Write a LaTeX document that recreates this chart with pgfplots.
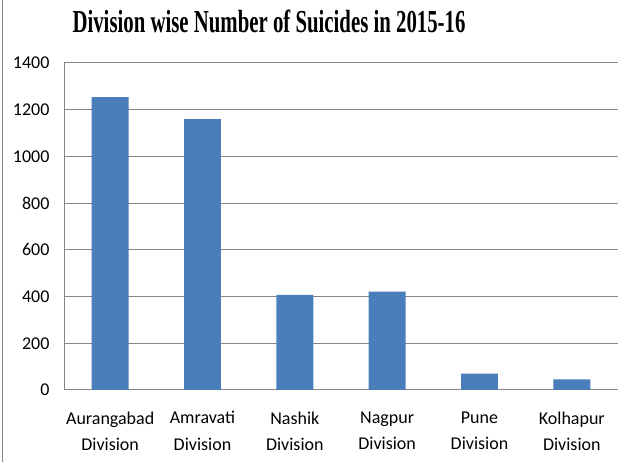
\documentclass[border=0pt]{standalone}
\usepackage{fontspec}
\setmainfont{Carlito}
\newfontfamily\titlefont[FakeStretch=0.65]{Liberation Serif}
\usepackage{pgfplots}
\usepackage{pgfplotstable}
\pgfplotsset{compat=1.18}

\definecolor{barblue}{HTML}{4A7EBB}
\definecolor{gridgray}{HTML}{868686}

\pgfplotstableread{
idx  suicides
1    1254
2    1160
3    407
4    421
5    70
6    46
}\divdata

\begin{document}
\begin{tikzpicture}
\path[use as bounding box] (0,0) rectangle (621pt,462pt);
\draw[gridgray, line width=1.5pt] (2.5pt,0) -- (2.5pt,462pt);
\node[font=\titlefont\bfseries\fontsize{32}{34}\selectfont, anchor=center] at (269pt,441pt) {Division wise Number of Suicides in 2015-16};
\begin{axis}[
    at={(64pt,72pt)}, anchor=south west,
    scale only axis,
    width=554pt, height=327pt,
    xmin=0.5, xmax=6.5,
    ymin=0, ymax=1400,
    xtick={1,...,6},
    xticklabels={{Aurangabad\\Division},{Amravati\\Division},{Nashik\\Division},{Nagpur\\Division},{Pune\\Division},{Kolhapur\\Division}},
    ytick={0,200,...,1400},
    axis x line*=bottom,
    axis y line*=left,
    axis line style={gridgray, line width=1pt, -},
    ymajorgrids,
    major grid style={gridgray, line width=1pt},
    major tick length=0pt,
    tick style={draw=none},
    /pgf/number format/assume math mode=true,
    /pgf/number format/1000 sep={},
    ticklabel style={font=\fontsize{18}{26.7}\selectfont},
    xticklabel style={align=center, yshift=-18pt},
    yticklabel style={xshift=-11pt},
    ]
  \addplot[ybar, bar width=0.4, fill=barblue, draw=none] table[x=idx, y=suicides] {\divdata};
\end{axis}
\end{tikzpicture}
\end{document}
